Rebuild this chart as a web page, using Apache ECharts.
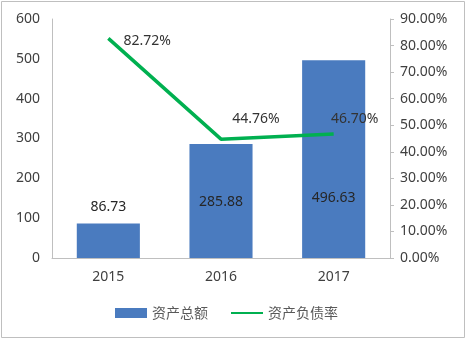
<!DOCTYPE html>
<html><head><meta charset="utf-8">
<script src="https://cdn.jsdelivr.net/npm/echarts@6/dist/echarts.min.js"></script>
<style>html,body{margin:0;padding:0;background:#fff}#c{width:468px;height:341px}</style>
</head><body><div id="c"></div>
<script>
const categories = ['2015', '2016', '2017'];
const totalAssets = [86.73, 285.88, 496.63];
const debtRatio = [0.8272, 0.4476, 0.4670];
const leftTicks = [0, 600, 100];
const rightTicks = [0, 0.9, 0.1];

const barLabelDist = [44, 49, 53];
const lineLabelCfg = [
  {position: 'right', offset: [10, 3]},
  {position: 'top', offset: [35, -8]},
  {position: 'top', offset: [21, -3]}
];
const font = '"Noto Sans", "DejaVu Sans", sans-serif';
const chart = echarts.init(document.getElementById('c'));
chart.setOption({
  animation: false,
  backgroundColor: '#fff',
  graphic: [{type: 'rect', shape: {x: 1.5, y: 1.5, width: 463, height: 336}, style: {fill: 'none', stroke: '#bfbfbf', lineWidth: 1}}],
  grid: {left: 52, right: 78, top: 19, bottom: 83},
  legend: {
    bottom: 16, left: 110, itemGap: 22,
    textStyle: {color: '#595959', fontSize: 14, fontFamily: '"Noto Sans CJK SC", serif'},
    data: [
      {name: '资产总额', icon: 'rect'},
      {name: '资产负债率', itemStyle: {opacity: 0}}
    ],
    itemWidth: 32, itemHeight: 10
  },
  xAxis: {
    type: 'category', data: categories,
    axisLine: {lineStyle: {color: '#bfbfbf'}},
    axisTick: {show: false},
    axisLabel: {color: '#404040', fontSize: 14, fontFamily: font, margin: 12}
  },
  yAxis: [{
    type: 'value', min: leftTicks[0], max: leftTicks[1], interval: leftTicks[2],
    axisLine: {show: true, lineStyle: {color: '#bfbfbf'}},
    axisTick: {show: false},
    splitLine: {show: false},
    axisLabel: {color: '#404040', fontSize: 14, fontFamily: font, margin: 12}
  }, {
    type: 'value', min: rightTicks[0], max: rightTicks[1], interval: rightTicks[2], position: 'right',
    axisLine: {show: true, lineStyle: {color: '#bfbfbf'}},
    axisTick: {show: true, length: 4, lineStyle: {color: '#bfbfbf'}},
    splitLine: {show: false},
    axisLabel: {color: '#404040', fontSize: 14, fontFamily: font, margin: 10,
      formatter: v => (v * 100).toFixed(2) + '%'}
  }],
  series: [{
    name: '资产总额', type: 'bar', barWidth: '56%', yAxisIndex: 0,
    itemStyle: {color: '#4a7bbf'},
    data: totalAssets.map((v, i) => ({value: v, label: {show: true, position: 'insideBottom', distance: barLabelDist[i]}})),
    label: {color: '#262626', fontSize: 14, fontFamily: font, formatter: p => p.value.toFixed(2)}
  }, {
    name: '资产负债率', type: 'line', yAxisIndex: 1,
    symbol: 'circle', symbolSize: 0.1, showSymbol: true,
    lineStyle: {color: '#00b050', width: 3.5},
    itemStyle: {color: '#00b050'},
    data: debtRatio.map((v, i) => ({value: v, label: Object.assign({show: true}, lineLabelCfg[i])})),
    label: {color: '#333', fontSize: 14, fontFamily: font, formatter: p => (p.value * 100).toFixed(2) + '%'}
  }]
});
</script></body></html>
